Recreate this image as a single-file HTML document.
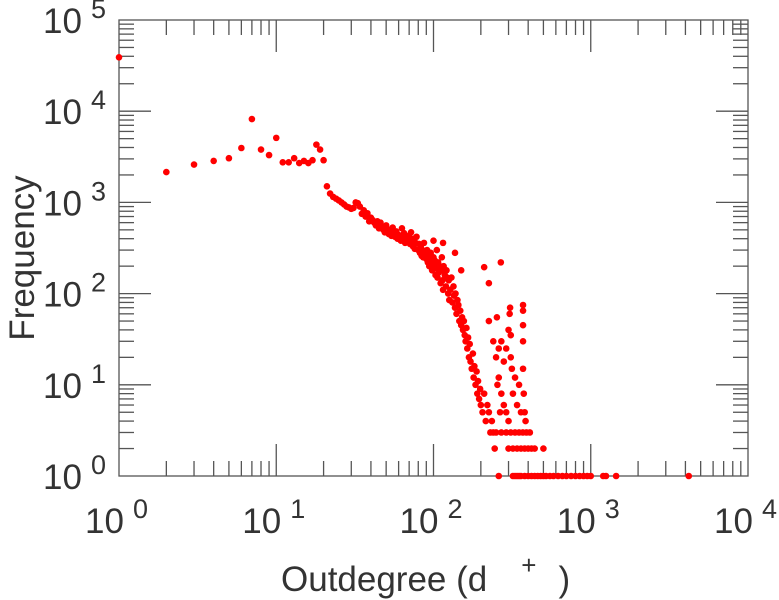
<!DOCTYPE html>
<html><head><meta charset="utf-8"><style>
html,body{margin:0;padding:0;background:#fff}
svg{display:block;font-family:"Liberation Sans",sans-serif}
</style></head><body>
<svg id="chart" width="779" height="600" viewBox="0 0 779 600" xmlns="http://www.w3.org/2000/svg">
<rect x="0" y="0" width="779" height="600" fill="#fff"/>
<g id="axes"></g>
<g id="points"></g>
<text x="34" y="258" font-size="35" fill="#333" text-anchor="middle" transform="rotate(-90 34 258)">Frequency</text>
<text x="281" y="591" font-size="35" fill="#333">Outdegree (d<tspan dx="34" dy="-17" font-size="26">+</tspan><tspan dx="22" dy="17">)</tspan></text>
</svg>
<script>
const xTickExps = [0, 1, 2, 3, 4];
const yTickExps = [0, 1, 2, 3, 4, 5];
const degX = [1,2,3,4,5,6,7,8,9,10,11,12,13,14,15,16,17,18,19,20,
21,22,23,24,25,26,27,28,29,30,31,32,33,34,35,36,37,38,39,40,41,42,43,44,45,46,47,48,49,50,
51,52,53,54,55,56,57,58,59,60,62,63,64,65,66,67,68,70,71,72,73,74,75,76,77,78,80,81,82,83,84,85,86,87,88,90,
91,92,93,94,95,96,97,98,100,101,102,103,104,105,106,107,108,110,111,112,113,114,115,116,118,120,121,122,124,125,126,128,130,132,134,135,137,138,140,
142,144,146,148,150,152,154,156,158,160,162,164,166,168,170,172,175,178,180,182,185,188,190,192,195,198,200,205,210,215,220,225,230,235,240,245,
210,268,225,150,100,137,115,
225,253,240,250,260,270,280,290,300,305,307,310,310,315,320,330,340,350,360,371,371,371,371,371,375,380,385,260,270,280,290,300,255,265,
250,270,290,310,330,350,370,390,410,
300,320,340,360,380,400,420,440,500,
260,320,330,340,350,360,380,400,420,440,460,480,500,520,550,580,620,660,700,750,800,850,900,950,1000,1200,1250,1450,4200];
const freqY = [39000,2150,2600,2850,3050,3950,8200,3800,3300,5100,2750,2750,3050,2700,2850,2700,2900,4300,3800,2900,
1500,1250,1150,1100,1050,1000,950,900,880,850,870,1000,980,900,750,820,700,760,620,680,640,600,560,620,520,600,540,500,470,560,
480,450,500,430,530,460,420,480,400,440,380,520,410,460,360,430,390,420,350,470,370,330,400,310,360,420,300,350,280,330,260,300,250,360,280,240,
300,220,260,200,240,280,210,180,250,200,230,160,190,300,150,220,170,200,130,180,250,140,110,200,160,120,180,150,100,140,85,110,150,80,120,95,70,100,60,
85,75,50,65,45,55,40,50,35,30,42,25,33,20,28,18,15,22,12,16,10,14,8,11,7,9,6,5,8,4,6,5,3,4,3,2,
195,220,130,180,380,280,360,
50,55,30,20,25,30,18,25,40,60,70,35,20,15,8,12,6,10,5,75,65,45,30,15,8,5,4,12,8,6,5,4,10,5,
3,3,3,3,3,3,3,3,3,
2,2,2,2,2,2,2,2,2,
1,1,1,1,1,1,1,1,1,1,1,1,1,1,1,1,1,1,1,1,1,1,1,1,1,1,1,1,1];

const L=119,R=748,T=20,B=476;
const xs = v => L + Math.log10(v)/4*(R-L);
const ys = v => B - Math.log10(v)/5*(B-T);
const NS="http://www.w3.org/2000/svg";
const ax=document.getElementById('axes');
function line(x1,y1,x2,y2,name){
  const l=document.createElementNS(NS,'line');
  l.setAttribute('x1',x1);l.setAttribute('y1',y1);l.setAttribute('x2',x2);l.setAttribute('y2',y2);
  l.setAttribute('stroke','#555');l.setAttribute('stroke-width','1.3');
  
  
  ax.appendChild(l);
}
const fr=document.createElementNS(NS,'rect');
fr.setAttribute('x',L);fr.setAttribute('y',T);fr.setAttribute('width',R-L);fr.setAttribute('height',B-T);
fr.setAttribute('fill','none');fr.setAttribute('stroke','#555');fr.setAttribute('stroke-width','1.3');


ax.appendChild(fr);
for(let e=0;e<4;e++){
  for(let m=1;m<=9;m++){
    const x=xs(m*Math.pow(10,e)); const len=m===1?32:15;
    if(m===1 && e===0) continue;
    line(x,B,x,B-len,'x-tick');
    line(x,T,x,T+len,'x-tick-top');
  }
}
for(let e=0;e<5;e++){
  for(let m=1;m<=9;m++){
    const y=ys(m*Math.pow(10,e)); const len=m===1?32:15;
    if(m===1 && e===0) continue;
    line(L,y,L+len,y,'y-tick');
    line(R,y,R-len,y,'y-tick-right');
  }
}
function label(x,y,e,anchorName){
  const t=document.createElementNS(NS,'text');
  t.setAttribute('x',x);t.setAttribute('y',y);t.setAttribute('font-size','35');t.setAttribute('fill','#333');
  
  
  t.textContent='10';
  const s=document.createElementNS(NS,'tspan');
  s.setAttribute('dx','9');s.setAttribute('dy','-15');s.setAttribute('font-size','27');
  s.textContent=String(e);
  t.appendChild(s);
  ax.appendChild(t);
}
xTickExps.forEach(e=>label(xs(Math.pow(10,e))-34,533,e,'x-tick-label'));
yTickExps.forEach(e=>label(43,ys(Math.pow(10,e))+13,e,'y-tick-label'));
const pg=document.getElementById('points');
degX.forEach((d,i)=>{
  const c=document.createElementNS(NS,'circle');
  c.setAttribute('cx',xs(d));c.setAttribute('cy',ys(freqY[i]));c.setAttribute('r','3.3');c.setAttribute('fill','#ff0000');
  
  
  pg.appendChild(c);
});
</script>
</body></html>
